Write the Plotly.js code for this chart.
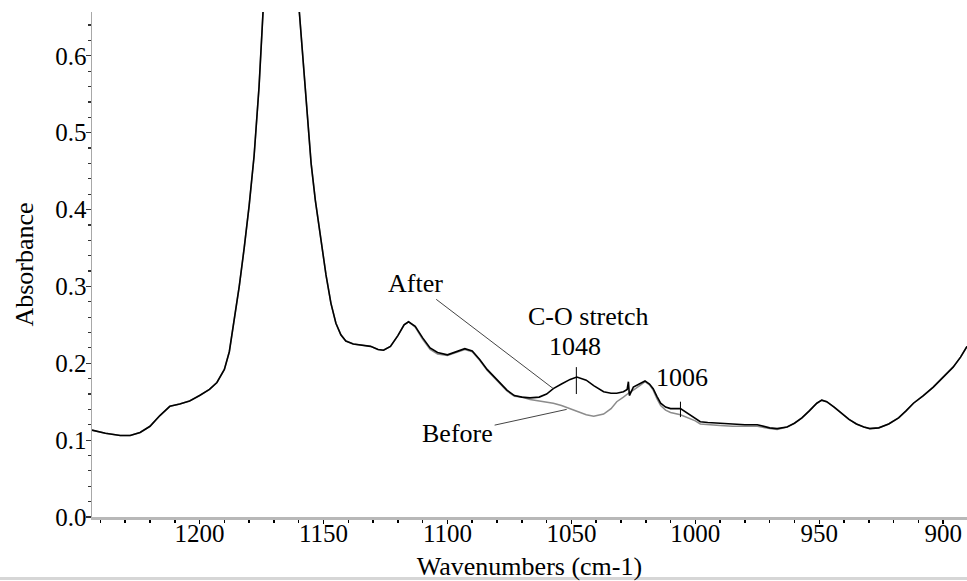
<!DOCTYPE html>
<html>
<head>
<meta charset="utf-8">
<script src="https://cdn.plot.ly/plotly-3.0.1.min.js"></script>
<style>html,body{margin:0;padding:0;background:#fff;}#chart{width:967px;height:581px;}</style>
</head>
<body>
<div id="chart"></div>
<script>
// Wavenumbers (cm-1), shared grid for both spectra
const wavenumbers = [1243.4,1238,1232,1228,1224,1220,1216,1212,1208,1204,1200,1196,1193,1190,1188,1186,1184,1182,1180,1178,1176,1174.4,1172,1169,1167,1165,1162,1159.8,1157,1155,1153.3,1151,1149,1147,1145,1143,1141,1138,1135,1131,1128,1125.8,1123,1120,1117.5,1115.7,1113,1110,1107,1104,1100,1097,1093,1090,1087,1084,1080,1076,1073,1070,1066.7,1063,1060,1057.3,1054,1050.5,1047.8,1044,1041,1037,1034,1031.7,1029,1027.5,1027,1026.6,1025,1022,1020.3,1018.5,1017,1015.5,1014,1012,1010,1006,1003,1000,998,995,990,985,980,975,970,967,963,960,957,954,951,949,947,944,941,938,935,932,929.6,926,922,918,915,912,908,904,900,896,893,890.4];

// Absorbance after treatment (black)
const absAfter = [0.113,0.109,0.106,0.106,0.110,0.118,0.132,0.144,0.147,0.151,0.158,0.166,0.175,0.192,0.215,0.255,0.300,0.350,0.405,0.470,0.560,0.657,0.780,0.880,0.910,0.890,0.750,0.657,0.540,0.460,0.412,0.360,0.315,0.278,0.252,0.237,0.229,0.225,0.224,0.222,0.218,0.217,0.222,0.236,0.250,0.254,0.248,0.233,0.220,0.214,0.211,0.214,0.219,0.216,0.205,0.192,0.178,0.165,0.158,0.156,0.155,0.156,0.160,0.167,0.173,0.179,0.182,0.178,0.171,0.163,0.161,0.161,0.163,0.166,0.176,0.158,0.169,0.174,0.177,0.173,0.167,0.157,0.148,0.143,0.141,0.141,0.135,0.129,0.124,0.123,0.122,0.121,0.120,0.120,0.116,0.115,0.117,0.122,0.129,0.138,0.148,0.152,0.150,0.143,0.135,0.127,0.121,0.117,0.115,0.116,0.121,0.129,0.138,0.148,0.158,0.169,0.182,0.195,0.208,0.222];

// Absorbance before treatment (grey)
const absBefore = [0.113,0.109,0.106,0.106,0.110,0.118,0.132,0.144,0.147,0.151,0.158,0.166,0.175,0.192,0.215,0.255,0.300,0.350,0.405,0.470,0.560,0.657,0.780,0.880,0.910,0.890,0.750,0.657,0.540,0.460,0.412,0.360,0.315,0.278,0.252,0.237,0.229,0.225,0.224,0.222,0.218,0.217,0.222,0.236,0.250,0.254,0.247,0.231,0.218,0.212,0.210,0.213,0.218,0.215,0.204,0.191,0.177,0.164,0.157,0.156,0.153,0.151,0.150,0.148,0.145,0.141,0.137,0.133,0.131,0.134,0.141,0.150,0.156,0.159,0.161,0.162,0.165,0.172,0.176,0.172,0.165,0.154,0.145,0.139,0.136,0.133,0.129,0.125,0.121,0.120,0.119,0.118,0.118,0.118,0.115,0.114,0.117,0.122,0.129,0.138,0.148,0.152,0.150,0.143,0.135,0.127,0.121,0.117,0.115,0.116,0.121,0.129,0.138,0.148,0.158,0.169,0.182,0.195,0.208,0.222];

// Axis ticks
const xTickVals = [1200,1150,1100,1050,1000,950,900];
const yTickVals = [0.0,0.1,0.2,0.3,0.4,0.5,0.6];

// Annotation text and marked peaks
const peakMarks = [1048, 1006];
const peakMarkSpan = [[0.160,0.195],[0.130,0.150]];
const labelTexts = ["After","Before","C-O stretch","1048","1006"];

const serif = 'Liberation Serif';

const traces = [
  {x: wavenumbers, y: absBefore, type:'scatter', mode:'lines', name:'Before',
   line:{color:'#8c8c8c', width:1.5}, hoverinfo:'skip'},
  {x: wavenumbers, y: absAfter, type:'scatter', mode:'lines', name:'After',
   line:{color:'#000000', width:1.6}, hoverinfo:'skip'}
];

const annFont = {family:serif, size:26, color:'#000'};

const markShapes = peakMarks.map((wn,i)=>({type:'line', xref:'x', yref:'y', x0:wn, x1:wn,
    y0:peakMarkSpan[i][0], y1:peakMarkSpan[i][1], line:{color:'#000', width:1}}));
// faint frame line at the bottom edge of the scanned figure
markShapes.push({type:'line', xref:'paper', yref:'paper', x0:-0.11, x1:1.01, y0:-0.1218, y1:-0.1218,
    line:{color:'#d6d6d6', width:3}});

const layout = {
  width:967, height:581,
  margin:{l:92, r:0, t:12, b:64},
  paper_bgcolor:'#ffffff', plot_bgcolor:'#ffffff',
  showlegend:false,
  font:{family:serif, size:25, color:'#000'},
  xaxis:{
    range:[1243.4, 890.4], autorange:false,
    tickvals:xTickVals, ticktext:xTickVals.map(String),
    ticks:'outside', ticklen:4, tickwidth:1.5, tickcolor:'#000',
    ticklabelstandoff:-12,
    minor:{dtick:10, tick0:900, ticks:'outside', ticklen:3, tickcolor:'#000', tickwidth:1.5, showgrid:false},
    showline:true, linecolor:'#b8b8b8', linewidth:3,
    showgrid:false, zeroline:false,
    tickfont:{family:serif, size:25, color:'#000'},
    title:{text:'Wavenumbers (cm-1)', font:{family:serif, size:26, color:'#000'}, standoff:15}
  },
  yaxis:{
    range:[0, 0.657], autorange:false,
    tickvals:yTickVals, ticktext:yTickVals.map(v=>v.toFixed(1)),
    ticks:'outside', ticklen:5, tickwidth:1.2, tickcolor:'#333',
    ticklabelstandoff:-6,
    minor:{dtick:0.02, tick0:0, ticks:'outside', ticklen:3, tickcolor:'#333', tickwidth:1.2, showgrid:false},
    showline:true, linecolor:'#a8a8a8', linewidth:1.5,
    showgrid:false, zeroline:false,
    tickfont:{family:serif, size:25, color:'#000'},
    title:{text:'Absorbance', font:{family:serif, size:26, color:'#000'}, standoff:14}
  },
  shapes: markShapes,
  annotations:[
    {x:1057.3, y:0.167, ax:1113, ay:0.304, axref:'x', ayref:'y', xref:'x', yref:'y',
     text:labelTexts[0], showarrow:true, arrowhead:0, arrowwidth:1, arrowcolor:'#444', font:annFont},
    {x:1051.9, y:0.140, ax:1095.9, ay:0.109, axref:'x', ayref:'y', xref:'x', yref:'y',
     text:labelTexts[1], showarrow:true, arrowhead:0, arrowwidth:1, arrowcolor:'#444', font:annFont},
    {x:1042.9, y:0.261, xref:'x', yref:'y', text:labelTexts[2], showarrow:false, font:annFont},
    {x:1048.5, y:0.222, xref:'x', yref:'y', text:labelTexts[3], showarrow:false, font:annFont},
    {x:1005.2, y:0.181, xref:'x', yref:'y', text:labelTexts[4], showarrow:false, font:annFont}
  ]
};

Plotly.newPlot('chart', traces, layout, {displayModeBar:false, staticPlot:true});
</script>
</body>
</html>
